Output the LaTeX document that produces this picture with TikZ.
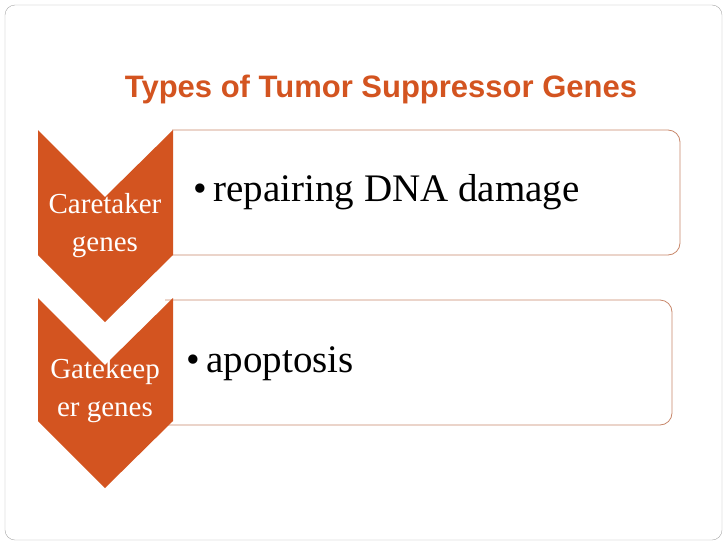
\documentclass[tikz,border=0pt]{standalone}
\usepackage{fontspec}
\setmainfont{Liberation Serif}
\newfontfamily\titlefont{Liberation Sans}
\definecolor{org}{HTML}{D35420}
\definecolor{edge}{HTML}{C8876A}
\begin{document}
\begin{tikzpicture}[x=1pt,y=-1pt,
  chev/.style={fill=org,draw=none},
  boxs/.style={draw=edge,line width=0.8pt,fill=white},
  lbl/.style={text=white,font=\fontsize{29}{38}\selectfont,align=center,inner sep=0pt},
  itm/.style={font=\fontsize{39}{44}\selectfont,anchor=west}]
\useasboundingbox (0,0) rectangle (728,546);
\draw[gray!70,rounded corners=10pt] (5,5) rectangle (722,540);
\node[font=\titlefont\bfseries\fontsize{31}{36}\selectfont,text=org] (title) at (381,89) {Types of Tumor Suppressor Genes};
% box 1
\draw[boxs,rounded corners=12pt] (172,130) -- (680,130) -- (680,255) -- (172,255);
\node[itm] (t1) at (190,192) {\textbullet\,repairing DNA damage};
% box 2
\draw[boxs,rounded corners=12pt] (165,300) -- (672,300) -- (672,425) -- (165,425);
\node[itm] (t2) at (183,364) {\textbullet\,apoptosis};
% chevrons
\fill[chev] (38,130) -- (105,197) -- (173,130) -- (173,255) -- (105,322) -- (38,255) -- cycle;
\fill[chev] (38,298) -- (105,365) -- (173,298) -- (173,421) -- (105,488) -- (38,421) -- cycle;
\node[lbl] (c1) at (105,226) {Caretaker\\genes};
\node[lbl] (c2) at (105,391) {Gatekeep\\er genes};
\end{tikzpicture}
\end{document}
